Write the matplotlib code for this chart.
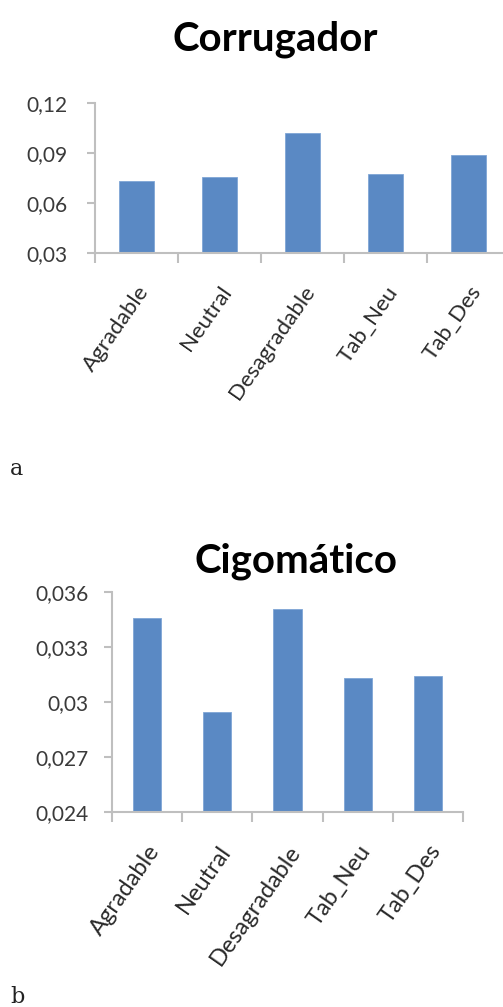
import matplotlib
matplotlib.use('Agg')
import matplotlib.pyplot as plt
import numpy as np

plt.rcParams['font.family'] = ['Lato', 'DejaVu Sans']

categorias = ['Agradable', 'Neutral', 'Desagradable', 'Tab_Neu', 'Tab_Des']

# corrugador
corr_vals = [0.0733, 0.0756, 0.1020, 0.0774, 0.0888]
corr_ticks = [0.03, 0.06, 0.09, 0.12]
corr_labels = ['0,03', '0,06', '0,09', '0,12']

# cigomatico
cig_vals = [0.03458, 0.02945, 0.03507, 0.03131, 0.03142]
cig_ticks = [0.024, 0.027, 0.030, 0.033, 0.036]
cig_labels = ['0,024', '0,027', '0,03', '0,033', '0,036']

azul = '#5a89c4'
gris = '#bfbfbf'

fig = plt.figure(figsize=(5.03, 10.07), dpi=100)


def dibujar(ax, vals, ticks, labels, titulo, ancho, fs_y, fs_x, pad_y, tx, ty):
    x = np.arange(len(vals))
    ax.bar(x, vals, width=ancho, color=azul, edgecolor='#7fa6d6', linewidth=0.6)
    ax.set_xlim(-0.5, len(vals) - 0.5)
    ax.set_ylim(ticks[0], ticks[-1])
    ax.set_yticks(ticks)
    ax.set_yticklabels(labels, fontsize=fs_y, color='#3a3a3a')
    ax.set_xticks(x)
    ax.set_xticklabels(categorias, rotation=55, ha='right', rotation_mode='anchor',
                       fontsize=fs_x, color='#2a2a2a')
    # ticks de separacion entre categorias
    ax.set_xticks(np.arange(len(vals) + 1) - 0.5, minor=True)
    ax.tick_params(axis='x', which='major', length=0, pad=21)
    ax.tick_params(axis='x', which='minor', length=7, width=1.5, color=gris, direction='out')
    ax.tick_params(axis='y', length=6, width=1.5, color=gris, direction='out', pad=pad_y)
    for s in ['top', 'right']:
        ax.spines[s].set_visible(False)
    for s in ['left', 'bottom']:
        ax.spines[s].set_color(gris)
        ax.spines[s].set_linewidth(1.5)
    ax.set_title(titulo, fontsize=29, fontweight='bold', color='black',
                 x=tx, y=ty, va='baseline', pad=0)


ax1 = fig.add_axes([95 / 503, 1 - 253 / 1007, 415 / 503, 150 / 1007])
dibujar(ax1, corr_vals, corr_ticks, corr_labels, 'Corrugador', 0.41, 15, 16, 14,
        (275 - 95) / 415, 1 + 53 / 150)

ax2 = fig.add_axes([112 / 503, 1 - 812 / 1007, 351 / 503, 220 / 1007])
dibujar(ax2, cig_vals, cig_ticks, cig_labels, 'Cigomático', 0.4, 15, 17, 11,
        (296 - 112) / 351, 1 + 19 / 220)

fig.text(10 / 503, 1 - 475 / 1007, 'a', fontsize=16, family=['DejaVu Serif'], color='#222222')
fig.text(10 / 503, 1 - 1003 / 1007, 'b', fontsize=16, family=['DejaVu Serif'], color='#222222')

fig.savefig('out.png', dpi=100)
